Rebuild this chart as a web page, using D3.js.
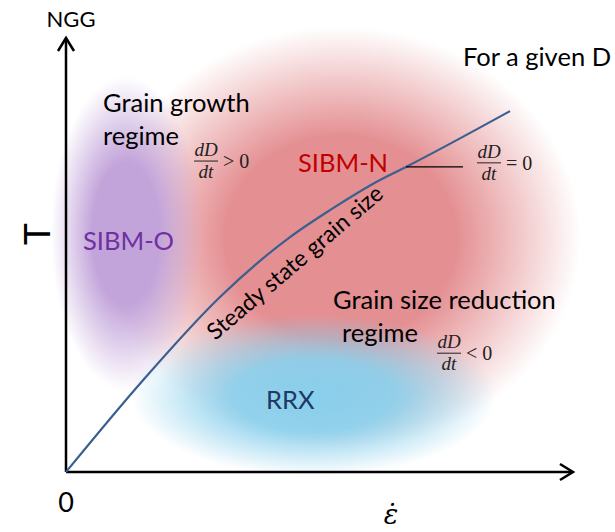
<!DOCTYPE html>
<html>
<head>
<meta charset="utf-8">
<script src="https://cdn.jsdelivr.net/npm/d3@7"></script>
<style>
  body { margin: 0; background: #fff; }
  svg { display: block; }
  .lbl { font-family: Lato, "Open Sans", sans-serif; font-size: 25.5px; fill: #000; }
  .math { font-family: "Liberation Serif", serif; font-style: italic; font-size: 19px; fill: #222; }
  .mathr { font-family: "Liberation Serif", serif; font-size: 20px; fill: #222; }
</style>
</head>
<body>
<div id="chart"></div>
<script>
// steady state grain size line (strain rate, T), schematic units
const strainRate = [0, 1.54, 3.08, 4.48, 5.28, 6.28, 6.8, 8.88];
const temperature = [0, 2.04, 3.89, 5.22, 5.82, 6.49, 6.78, 8.02];

// mechanism fields, extents in the same units
const fieldNames = ["SIBM-N", "SIBM-O", "RRX"];
const fieldX = [[0.7, 10.3], [-0.3, 2.7], [1.3, 8.6]];
const fieldY = [[0.5, 9.9], [1.8, 8.8], [-0.1, 3.5]];
const fieldColors = ["#e48f92", "#c2a4da", "#88cfec"];
const fieldLabelPos = [[4.64, 6.67], [0.34, 4.93], [4.0, 1.4]];
const fieldLabelColors = ["#c00000", "#7030a0", "#1f3864"];

const regimeLines = [
  { lines: ["Grain growth", "regime"], x: [0.74, 0.74], y: [8.0, 7.27] },
  { lines: ["Grain size reduction", "regime"], x: [5.34, 5.52], y: [3.62, 2.89] }
];
const rates = [
  { sign: "> 0", x: 2.8, y: 6.91 },
  { sign: "= 0", x: 8.46, y: 6.87 },
  { sign: "< 0", x: 7.66, y: 2.64 }
];

const w = 615;
const h = 532;

const x = d3.scaleLinear().domain([0, 10]).range([66, 566]);
const y = d3.scaleLinear().domain([0, 10]).range([472, 22]);

const svg = d3.select("#chart")
  .append("svg")
  .attr("width", w)
  .attr("height", h);

const defs = svg.append("defs");

fieldColors.forEach((c, i) => {
  const g = defs.append("radialGradient").attr("id", "field" + i);
  g.append("stop").attr("offset", "0%").attr("stop-color", c).attr("stop-opacity", 1);
  g.append("stop").attr("offset", i === 0 ? "48%" : "45%").attr("stop-color", c).attr("stop-opacity", i === 2 ? 0.9 : 1);
  g.append("stop").attr("offset", "100%").attr("stop-color", c).attr("stop-opacity", 0);
});

svg.append("g")
  .selectAll("ellipse")
  .data(fieldNames)
  .join("ellipse")
  .attr("cx", (d, i) => x((fieldX[i][0] + fieldX[i][1]) / 2))
  .attr("cy", (d, i) => y((fieldY[i][0] + fieldY[i][1]) / 2))
  .attr("rx", (d, i) => (x(fieldX[i][1]) - x(fieldX[i][0])) / 2)
  .attr("ry", (d, i) => (y(fieldY[i][0]) - y(fieldY[i][1])) / 2)
  .attr("fill", (d, i) => `url(#field${i})`);

// axes with open arrow heads
const axes = svg.append("g").attr("stroke", "#000").attr("fill", "none").attr("stroke-width", 2.5);
axes.append("line").attr("x1", x(0)).attr("y1", y(0)).attr("x2", x(0)).attr("y2", 38);
axes.append("path").attr("d", `M${x(0) - 8},51 L${x(0)},38 L${x(0) + 8},51`);
axes.append("line").attr("x1", x(0)).attr("y1", y(0)).attr("x2", 573).attr("y2", y(0));
axes.append("path").attr("d", `M560,${y(0) - 8} L573,${y(0)} L560,${y(0) + 8}`);

svg.append("text").attr("class", "lbl").attr("x", 71).attr("y", 27)
  .attr("text-anchor", "middle").style("font-size", "22px").text("NGG");
svg.append("text").attr("class", "lbl").attr("x", 66).attr("y", 512)
  .attr("text-anchor", "middle").style("font-size", "27px").text("0");
svg.append("text").attr("class", "lbl")
  .attr("transform", "translate(50,234) rotate(-90)")
  .attr("text-anchor", "middle").style("font-size", "37px").text("T");
svg.append("text").attr("x", 391).attr("y", 524)
  .attr("text-anchor", "middle")
  .style("font-family", "'DejaVu Serif', serif").style("font-style", "italic").style("font-size", "27px")
  .text("\u03b5\u0307");

// steady state line
const line = d3.line()
  .x((d, i) => x(strainRate[i]))
  .y((d, i) => y(temperature[i]))
  .curve(d3.curveMonotoneX);

svg.append("path")
  .datum(strainRate)
  .attr("d", line)
  .attr("fill", "none")
  .attr("stroke", "#3b5f8f")
  .attr("stroke-width", 2.2);

svg.append("text").attr("class", "lbl")
  .attr("transform", `translate(${x(4.68)},${y(4.52)}) rotate(-40.5)`)
  .attr("text-anchor", "middle").style("font-size", "23px")
  .text("Steady state grain size");

// leader from the line to dD/dt = 0
svg.append("line")
  .attr("x1", x(strainRate[6])).attr("y1", y(temperature[6]))
  .attr("x2", x(7.94)).attr("y2", y(temperature[6]))
  .attr("stroke", "#000").attr("stroke-width", 1.2);

svg.append("g")
  .selectAll("text")
  .data(fieldNames)
  .join("text")
  .attr("class", "lbl")
  .attr("x", (d, i) => x(fieldLabelPos[i][0]))
  .attr("y", (d, i) => y(fieldLabelPos[i][1]))
  .style("fill", (d, i) => fieldLabelColors[i])
  .text(d => d);

regimeLines.forEach(r => {
  r.lines.forEach((t, i) => {
    svg.append("text").attr("class", "lbl")
      .attr("x", x(r.x[i])).attr("y", y(r.y[i])).text(t);
  });
});

svg.append("text").attr("class", "lbl").attr("x", x(7.94)).attr("y", y(9.02)).text("For a given D");

const frac = svg.append("g").selectAll("g").data(rates).join("g")
  .attr("transform", d => `translate(${x(d.x)},${y(d.y)})`);
frac.append("text").attr("class", "math").attr("text-anchor", "middle").attr("y", -5).text("dD");
frac.append("text").attr("class", "math").attr("text-anchor", "middle").attr("y", 17).text("dt");
frac.append("line").attr("x1", -12).attr("x2", 12).attr("stroke", "#222").attr("stroke-width", 1);
frac.append("text").attr("class", "mathr").attr("x", 17).attr("y", 7).text(d => d.sign);
</script>
</body>
</html>
